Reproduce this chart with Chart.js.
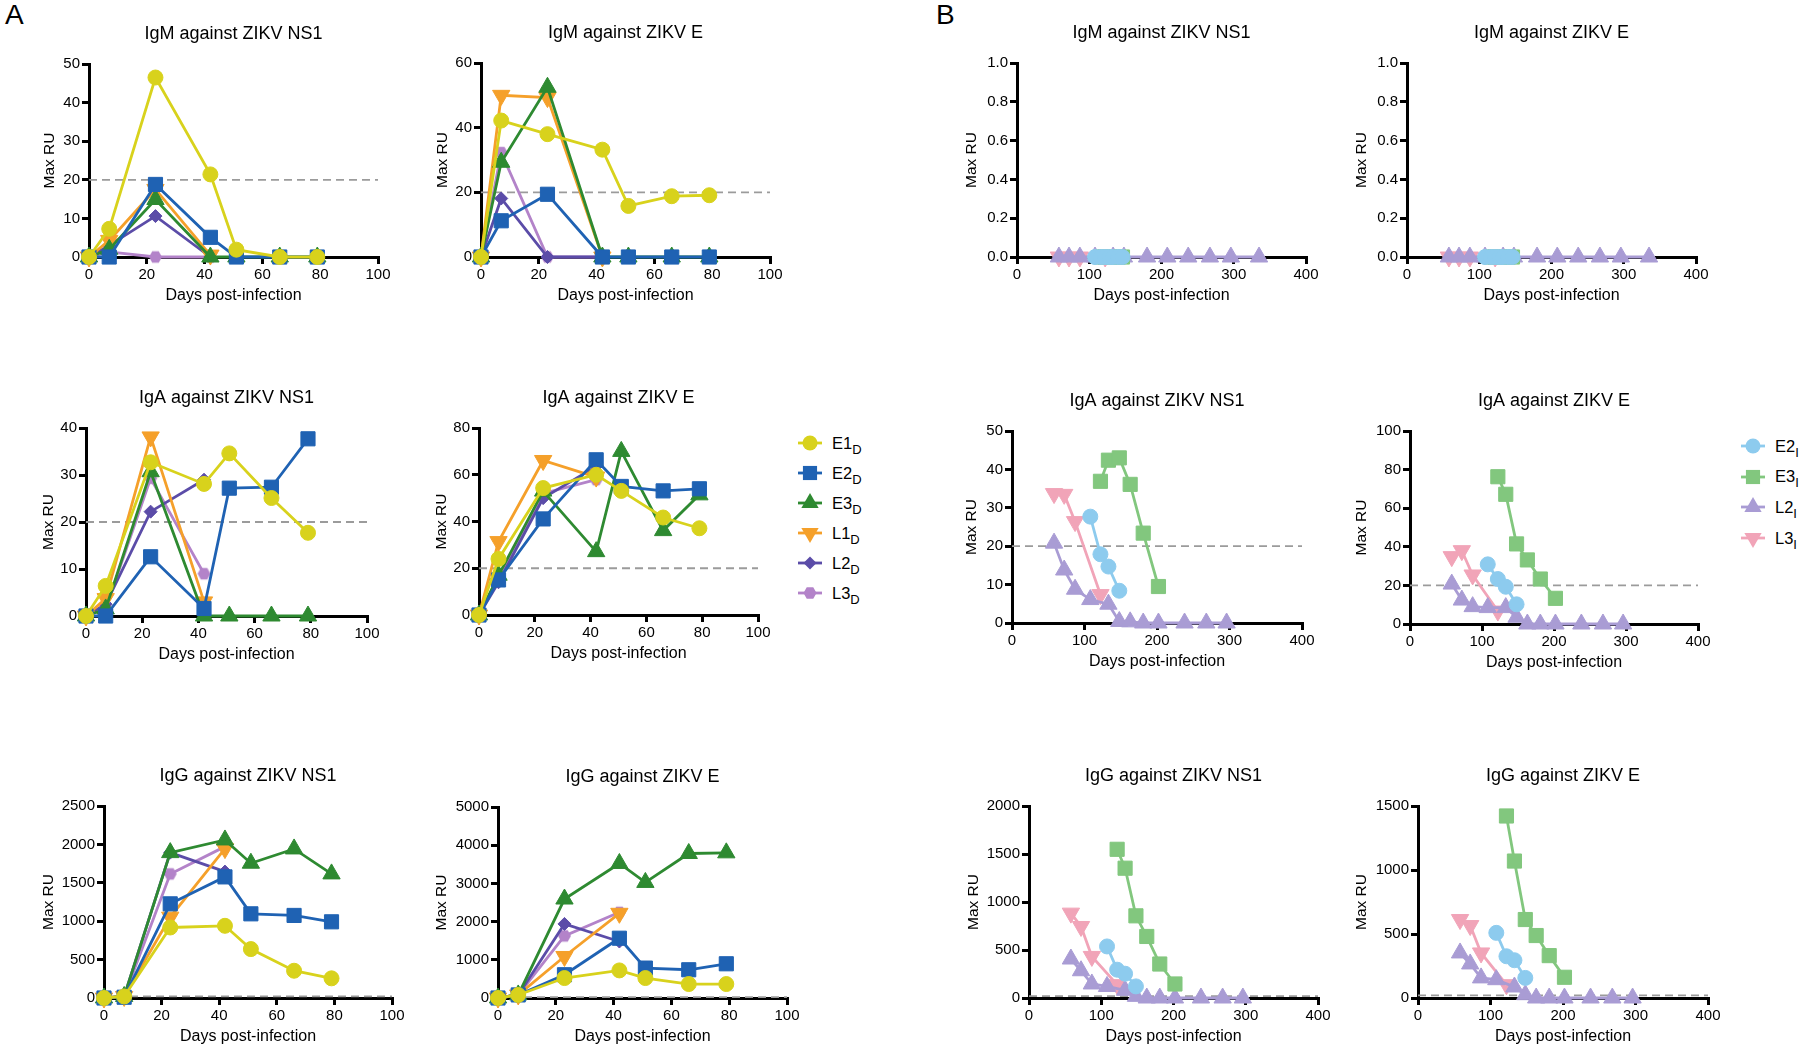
<!DOCTYPE html>
<html>
<head>
<meta charset="utf-8">
<script src="https://cdn.jsdelivr.net/npm/chart.js@4.4.1/dist/chart.umd.min.js"></script>
<style>
  body { margin: 0; background: #fff; }
  #page { position: relative; width: 1800px; height: 1051px; overflow: hidden; font-family: "Liberation Sans", Arial, Helvetica, sans-serif; color: #000; }
  #page canvas { position: absolute; }
  .letter { position: absolute; font-size: 28px; line-height: 1; }
  .key { position: absolute; font-size: 16.5px; line-height: 16px; white-space: nowrap; }
  .key sub { font-size: 13px; vertical-align: -5px; }
  .mark { position: absolute; }
</style>
</head>
<body>
<div id="page">
  <div class="letter" style="left:5px;top:1px">A</div>
  <div class="letter" style="left:936px;top:1px">B</div>
</div>
<script>
Chart.defaults.font.family = '"Liberation Sans", Arial, Helvetica, sans-serif'
Chart.defaults.color = '#000'

const cutoff = 20

// ---- A: days post-infection
const daysE = [0, 7, 23, 42, 51, 66, 79]
const daysL = [0, 7, 23, 42]

// IgM NS1
const aIgmNs1E1 = [0, 7.3, 46.5, 21.4, 1.9, 0, 0]
const aIgmNs1E2 = [0, 0, 18.8, 5.1, 0, 0, 0]
const aIgmNs1E3 = [0, 2, 14.9, 0, 0, 0, 0]
const aIgmNs1L1 = [0, 4.3, 17.5, 0.5]
const aIgmNs1L2 = [0, 3, 10.6, 0]
const aIgmNs1L3 = [0, 1.3, 0, 0]
// IgM E
const aIgmEE1 = [0, 42.2, 38.0, 33.2, 15.8, 18.8, 19.1]
const aIgmEE2 = [0, 11.2, 19.4, 0, 0, 0, 0]
const aIgmEE3 = [0, 29.3, 52.5, 0, 0, 0, 0]
const aIgmEL1 = [0, 50, 49.3, 0]
const aIgmEL2 = [0, 18.1, 0, 0]
const aIgmEL3 = [0, 32.3, 0, 0]
// IgA NS1
const aIgaNs1E1 = [0, 6.4, 32.7, 28.1, 34.6, 25.1, 17.7]
const aIgaNs1E2 = [0, 0, 12.6, 1.6, 27.2, 27.4, 37.7]
const aIgaNs1E3 = [0, 1.5, 30.7, 0, 0, 0, 0]
const aIgaNs1L1 = [0, 3.7, 38.1, 3]
const aIgaNs1L2 = [0, 2.5, 22.2, 29]
const aIgaNs1L3 = [0, 1.5, 29.3, 9]
// IgA E
const aIgaEE1 = [0, 24, 54.3, 60, 53.1, 41.7, 37.1]
const aIgaEE2 = [0, 15, 41.1, 66.4, 55, 53.1, 54]
const aIgaEE3 = [0, 17, 53, 27.1, 70, 36.1, 51.4]
const aIgaEL1 = [0, 31.4, 66.1, 59]
const aIgaEL2 = [0, 14, 50, 63.6]
const aIgaEL3 = [0, 16, 52, 57.9]
// IgG NS1
const aIggNs1E1 = [0, 20, 918, 940, 637, 355, 256]
const aIggNs1E2 = [0, 10, 1226, 1577, 1096, 1075, 992]
const aIggNs1E3 = [0, 20, 1893, 2058, 1755, 1941, 1616]
const aIggNs1L1 = [0, 20, 1053, 1945]
const aIggNs1L2 = [0, 20, 1893, 1646]
const aIggNs1L3 = [0, 20, 1616, 1971]
// IgG E
const aIggEE1 = [0, 80, 522, 722, 522, 365, 365]
const aIggEE2 = [0, 80, 609, 1565, 783, 739, 896]
const aIggEE3 = [0, 80, 2591, 3522, 3026, 3783, 3800]
const aIggEL1 = [0, 80, 1087, 2217]
const aIggEL2 = [0, 80, 1939, 1478]
const aIggEL3 = [0, 80, 1626, 2243]

// ---- B: days post-infection
const daysE2i = [108, 122, 133, 148]
const daysE3i = [122, 133, 148, 163, 181, 202]
const daysL2i = [58, 72, 87, 108, 133, 148, 163, 181, 202, 238, 268, 296]
const daysL3i = [58, 72, 87, 122]
const daysE2iM = [108, 116, 122, 128, 133, 140, 146]
const daysE3iM = [116, 122, 133, 140, 146]
const daysL2iM = [58, 72, 87, 108, 133, 148, 180, 208, 237, 267, 296, 335]

// IgM (all zero)
const bIgmE2 = [0, 0, 0, 0, 0, 0, 0]
const bIgmE3 = [0, 0, 0, 0, 0]
const bIgmL2 = [0, 0, 0, 0, 0, 0, 0, 0, 0, 0, 0, 0]
const bIgmL3 = [0, 0, 0, 0]
// IgA NS1
const bIgaNs1E2 = [27.7, 17.9, 14.7, 8.4]
const bIgaNs1E3 = [36.9, 42.4, 43.0, 36.1, 23.4, 9.5]
const bIgaNs1L2 = [20.8, 13.8, 8.8, 6.1, 4.9, 0.4, 0.3, 0, 0, 0, 0, 0]
const bIgaNs1L3 = [33.7, 33.5, 26.4, 7.4]
// IgA E
const bIgaEE2 = [30.9, 23.3, 19.3, 10.2]
const bIgaEE3 = [76.3, 67.2, 41.5, 33.2, 23.3, 13.3]
const bIgaEL2 = [20.7, 12.4, 9.0, 8.5, 8.5, 3.5, 0, 0, 0, 0, 0, 0]
const bIgaEL3 = [34.9, 38, 25.4, 6.7]
// IgG NS1
const bIggNs1E2 = [537, 295, 253, 121]
const bIggNs1E3 = [1549, 1352, 856, 641, 354, 146]
const bIggNs1L2 = [406, 284, 146, 120, 80, 17, 0, 0, 0, 0, 0, 0]
const bIggNs1L3 = [884, 745, 433, 139]
// IgG E
const bIggEE2 = [509, 326, 295, 157]
const bIggEE3 = [1422, 1070, 613, 488, 331, 162]
const bIggEL2 = [352, 266, 157, 143, 86, 26, 0, 0, 0, 0, 0, 0]
const bIggEL3 = [613, 566, 352, 104]

const seriesA = [
  { name: 'E1', sub: 'D', color: '#d8d21c', shape: 'circle', r: 7.5 },
  { name: 'E2', sub: 'D', color: '#1f62b3', shape: 'rect', r: 10 },
  { name: 'E3', sub: 'D', color: '#2e8a31', shape: 'triangle', r: 10 },
  { name: 'L1', sub: 'D', color: '#f5a02a', shape: 'down', r: 10 },
  { name: 'L2', sub: 'D', color: '#5b4ca8', shape: 'diamond', r: 6.5 },
  { name: 'L3', sub: 'D', color: '#b383c9', shape: 'hex', r: 6.5 }
]
const seriesB = [
  { name: 'E2', sub: 'I', color: '#8dcbee', shape: 'circle', r: 7.5 },
  { name: 'E3', sub: 'I', color: '#82c77e', shape: 'rect', r: 10 },
  { name: 'L2', sub: 'I', color: '#a99cd4', shape: 'triangle', r: 10 },
  { name: 'L3', sub: 'I', color: '#f1a4b8', shape: 'down', r: 10 }
]

const xA = [daysE, daysE, daysE, daysL, daysL, daysL]
const xB = [daysE2i, daysE3i, daysL2i, daysL3i]
const xBM = [daysE2iM, daysE3iM, daysL2iM, daysL3i]

const panels = [
  { title: 'IgM against ZIKV NS1', rect: [89, 64, 378, 257], xMax: 100, xStep: 20, yMax: 50, yStep: 10, gap: 39, cut: true,
    series: seriesA, x: xA, y: [aIgmNs1E1, aIgmNs1E2, aIgmNs1E3, aIgmNs1L1, aIgmNs1L2, aIgmNs1L3] },
  { title: 'IgM against ZIKV E', rect: [481, 63, 770, 257], xMax: 100, xStep: 20, yMax: 60, yStep: 20, gap: 38, cut: true,
    series: seriesA, x: xA, y: [aIgmEE1, aIgmEE2, aIgmEE3, aIgmEL1, aIgmEL2, aIgmEL3] },
  { title: 'IgA against ZIKV NS1', rect: [86, 428, 367, 616], xMax: 100, xStep: 20, yMax: 40, yStep: 10, gap: 37, cut: true,
    series: seriesA, x: xA, y: [aIgaNs1E1, aIgaNs1E2, aIgaNs1E3, aIgaNs1L1, aIgaNs1L2, aIgaNs1L3] },
  { title: 'IgA against ZIKV E', rect: [479, 428, 758, 615], xMax: 100, xStep: 20, yMax: 80, yStep: 20, gap: 37, cut: true,
    series: seriesA, x: xA, y: [aIgaEE1, aIgaEE2, aIgaEE3, aIgaEL1, aIgaEL2, aIgaEL3] },
  { title: 'IgG against ZIKV NS1', rect: [104, 806, 392, 998], xMax: 100, xStep: 20, yMax: 2500, yStep: 500, gap: 55, cut: true,
    series: seriesA, x: xA, y: [aIggNs1E1, aIggNs1E2, aIggNs1E3, aIggNs1L1, aIggNs1L2, aIggNs1L3] },
  { title: 'IgG against ZIKV E', rect: [498, 807, 787, 998], xMax: 100, xStep: 20, yMax: 5000, yStep: 1000, gap: 56, cut: true,
    series: seriesA, x: xA, y: [aIggEE1, aIggEE2, aIggEE3, aIggEL1, aIggEL2, aIggEL3] },

  { title: 'IgM against ZIKV NS1', rect: [1017, 63, 1306, 257], xMax: 400, xStep: 100, yMax: 1, yStep: 0.2, dec: 1, gap: 45, cut: false,
    series: seriesB, x: xBM, y: [bIgmE2, bIgmE3, bIgmL2, bIgmL3] },
  { title: 'IgM against ZIKV E', rect: [1407, 63, 1696, 257], xMax: 400, xStep: 100, yMax: 1, yStep: 0.2, dec: 1, gap: 45, cut: false,
    series: seriesB, x: xBM, y: [bIgmE2, bIgmE3, bIgmL2, bIgmL3] },
  { title: 'IgA against ZIKV NS1', rect: [1012, 431, 1302, 623], xMax: 400, xStep: 100, yMax: 50, yStep: 10, gap: 40, cut: true,
    series: seriesB, x: xB, y: [bIgaNs1E2, bIgaNs1E3, bIgaNs1L2, bIgaNs1L3] },
  { title: 'IgA against ZIKV E', rect: [1410, 431, 1698, 624], xMax: 400, xStep: 100, yMax: 100, yStep: 20, gap: 48, cut: true,
    series: seriesB, x: xB, y: [bIgaEE2, bIgaEE3, bIgaEL2, bIgaEL3] },
  { title: 'IgG against ZIKV NS1', rect: [1029, 806, 1318, 998], xMax: 400, xStep: 100, yMax: 2000, yStep: 500, gap: 55, cut: true,
    series: seriesB, x: xB, y: [bIggNs1E2, bIggNs1E3, bIggNs1L2, bIggNs1L3] },
  { title: 'IgG against ZIKV E', rect: [1418, 806, 1708, 998], xMax: 400, xStep: 100, yMax: 1500, yStep: 500, gap: 56, cut: true,
    series: seriesB, x: xB, y: [bIggEE2, bIggEE3, bIggEL2, bIggEL3] }
]

const page = document.getElementById('page')

function hexCanvas(color, r) {
  const c = document.createElement('canvas')
  const s = Math.ceil(r * 2 + 2)
  c.width = s; c.height = s
  const g = c.getContext('2d')
  g.beginPath()
  for (let i = 0; i < 6; i++) {
    const a = i * Math.PI / 3
    g.lineTo(s / 2 + r * Math.cos(a), s / 2 + r * Math.sin(a))
  }
  g.closePath()
  g.fillStyle = color
  g.fill()
  return c
}

function pointStyleOf(s) {
  switch (s.shape) {
    case 'rect': return { pointStyle: 'rect', pointRotation: 0 }
    case 'triangle': return { pointStyle: 'triangle', pointRotation: 0 }
    case 'down': return { pointStyle: 'triangle', pointRotation: 180 }
    case 'diamond': return { pointStyle: 'rectRot', pointRotation: 0 }
    case 'hex': return { pointStyle: hexCanvas(s.color, s.r), pointRotation: 0 }
    default: return { pointStyle: 'circle', pointRotation: 0 }
  }
}

function makeChart(p) {
  const LEFT = 72, TOP = 50, BOTTOM = 50, RIGHT = 28
  const pw = p.rect[2] - p.rect[0], ph = p.rect[3] - p.rect[1]
  const c = document.createElement('canvas')
  c.width = pw + LEFT + RIGHT
  c.height = ph + TOP + BOTTOM
  c.style.left = (p.rect[0] - LEFT) + 'px'
  c.style.top = (p.rect[1] - TOP) + 'px'
  page.appendChild(c)

  const datasets = p.series.map((s, i) => Object.assign({
    data: p.x[i].map((d, j) => ({ x: d, y: p.y[i][j] })),
    borderColor: s.color,
    backgroundColor: s.color,
    borderWidth: 2.8,
    pointRadius: s.r,
    pointBorderWidth: 1,
    pointBackgroundColor: s.color,
    pointBorderColor: s.color,
    tension: 0,
    clip: false
  }, pointStyleOf(s)))
  if (p.cut) {
    datasets.push({
      data: [{ x: 0, y: cutoff }, { x: p.xMax, y: cutoff }],
      borderColor: '#9b9b9b', borderWidth: 1.8, borderDash: [8, 5], pointRadius: 0
    })
  }

  const axisGrid = { drawOnChartArea: false, drawTicks: true, tickLength: 7, lineWidth: 3, color: '#000' }
  new Chart(c, {
    type: 'line',
    data: { datasets },
    options: {
      responsive: false,
      animation: false,
      events: [],
      layout: { padding: { left: 0, top: 0, bottom: 0, right: RIGHT } },
      plugins: {
        legend: { display: false },
        tooltip: { enabled: false },
        title: {
          display: true, text: p.title, fullSize: false, color: '#000',
          font: { size: 18, weight: 'normal' },
          padding: { top: 9.2, bottom: 19.2 }
        }
      },
      scales: {
        x: {
          type: 'linear', min: 0, max: p.xMax,
          afterFit: s => { s.height = BOTTOM },
          ticks: { stepSize: p.xStep, autoSkip: false, maxRotation: 0, padding: 2, font: { size: 15 }, color: '#000' },
          grid: axisGrid,
          border: { display: true, width: 3, color: '#000' },
          title: { display: true, text: 'Days post-infection', color: '#000', font: { size: 16 }, padding: { top: 0, bottom: 2 } }
        },
        y: {
          type: 'linear', min: 0, max: p.yMax,
          afterFit: s => { s.width = LEFT },
          ticks: {
            stepSize: p.yStep, autoSkip: false, padding: 2, font: { size: 15 }, color: '#000',
            callback: v => p.dec ? v.toFixed(p.dec) : String(v)
          },
          grid: axisGrid,
          border: { display: true, width: 3, color: '#000' },
          title: { display: true, text: 'Max RU', color: '#000', font: { size: 15.5 }, padding: { top: LEFT - p.gap - 9.3, bottom: 0 } }
        }
      }
    }
  })
}

panels.forEach(makeChart)

// legends
function shapeSvg(s, cx, cy) {
  const r = s.r, f = `fill="${s.color}"`
  if (s.shape === 'circle') return `<circle cx="${cx}" cy="${cy}" r="${r}" ${f}/>`
  if (s.shape === 'rect') { const h = r * Math.SQRT1_2; return `<rect x="${cx - h}" y="${cy - h}" width="${2 * h}" height="${2 * h}" ${f}/>` }
  let pts = []
  if (s.shape === 'triangle') pts = [[0, -r], [0.866 * r, 0.5 * r], [-0.866 * r, 0.5 * r]]
  else if (s.shape === 'down') pts = [[0, r], [0.866 * r, -0.5 * r], [-0.866 * r, -0.5 * r]]
  else if (s.shape === 'diamond') pts = [[0, -r], [r, 0], [0, r], [-r, 0]]
  else if (s.shape === 'hex') for (let i = 0; i < 6; i++) pts.push([r * Math.cos(i * Math.PI / 3), r * Math.sin(i * Math.PI / 3)])
  return `<polygon points="${pts.map(q => (cx + q[0]) + ',' + (cy + q[1])).join(' ')}" ${f}/>`
}

function addLegend(series, mx, y0, dy) {
  series.forEach((s, i) => {
    const cy = y0 + i * dy
    const svg = document.createElement('div')
    svg.className = 'mark'
    svg.style.left = (mx - 14) + 'px'
    svg.style.top = (cy - 12) + 'px'
    svg.innerHTML = `<svg width="28" height="24" xmlns="http://www.w3.org/2000/svg">` +
      `<line x1="2" y1="12" x2="26" y2="12" stroke="${s.color}" stroke-width="2.8"/>` +
      shapeSvg(s, 14, 12) + `</svg>`
    page.appendChild(svg)
    const t = document.createElement('div')
    t.className = 'key'
    t.style.left = (mx + 22) + 'px'
    t.style.top = (cy - 8.5) + 'px'
    t.innerHTML = `${s.name}<sub>${s.sub}</sub>`
    page.appendChild(t)
  })
}

addLegend(seriesA, 810, 443, 30)
addLegend(seriesB, 1753, 446, 30.7)
</script>
</body>
</html>
